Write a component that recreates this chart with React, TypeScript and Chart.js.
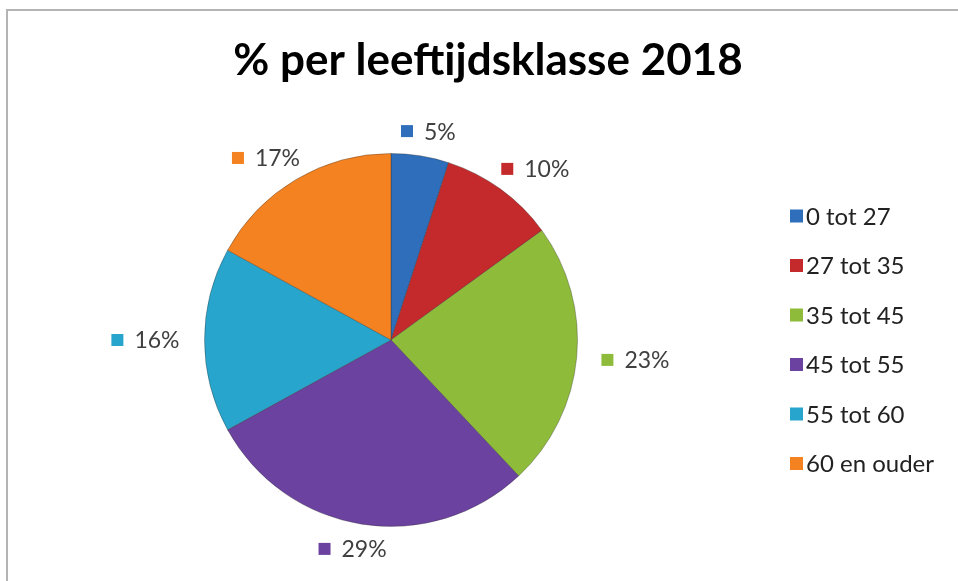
import React, { useEffect, useRef } from "react";
import { Chart, registerables } from "chart.js";
Chart.register(...registerables);

const chartTitle = "% per leeftijdsklasse 2018";
const categories = ["0 tot 27", "27 tot 35", "35 tot 45", "45 tot 55", "55 tot 60", "60 en ouder"];
const values = [5, 10, 23, 29, 16, 17];
const sliceColors = ["#2F6EBA", "#C42A2B", "#8FBB3B", "#6B42A0", "#27A5CC", "#F58220"];

const FONT = "Lato, 'Open Sans', sans-serif";

const decor = {
  id: "decor",
  beforeDraw(chart: any) {
    const ctx = chart.ctx;
    ctx.save();
    ctx.fillStyle = "#ffffff";
    ctx.fillRect(0, 0, chart.width, chart.height);
    ctx.strokeStyle = "#b4b4b4";
    ctx.lineWidth = 2;
    ctx.beginPath();
    ctx.moveTo(chart.width, 10);
    ctx.lineTo(7, 10);
    ctx.lineTo(7, chart.height);
    ctx.stroke();
    ctx.restore();
  },
  afterDatasetsDraw(chart: any) {
    const ctx = chart.ctx;
    ctx.save();
    // title
    ctx.fillStyle = "#000000";
    ctx.font = `bold 44px ${FONT}`;
    ctx.textAlign = "center";
    ctx.textBaseline = "middle";
    ctx.fillText(chartTitle, 488, 61);

    // data labels
    const meta = chart.getDatasetMeta(0);
    const data = chart.data.datasets[0].data as number[];
    const bg = chart.data.datasets[0].backgroundColor as string[];
    ctx.font = `23px ${FONT}`;
    ctx.textAlign = "left";
    const sq = 12;
    const gap = 11;
    meta.data.forEach((arc: any, i: number) => {
      const p = arc.getProps(["x", "y", "startAngle", "endAngle", "outerRadius"], true);
      const mid = (p.startAngle + p.endAngle) / 2;
      const dist = p.outerRadius + 25;
      const ax = p.x + Math.cos(mid) * dist;
      const ay = p.y + Math.sin(mid) * dist;
      const text = `${data[i]}%`;
      const w = sq + gap + ctx.measureText(text).width;
      const cx = ax + Math.cos(mid) * (w / 2);
      const left = cx - w / 2;
      ctx.fillStyle = bg[i];
      ctx.fillRect(left, ay - sq / 2, sq, sq);
      ctx.fillStyle = "#404040";
      ctx.fillText(text, left + sq + gap, ay + 1);
    });

    // legend
    const labels = chart.data.labels as string[];
    ctx.font = `24px ${FONT}`;
    labels.forEach((lab: string, i: number) => {
      const y = 216 + i * 49.5;
      ctx.fillStyle = bg[i];
      ctx.fillRect(790, y - 6.5, 13, 13);
      ctx.fillStyle = "#222222";
      ctx.fillText(lab, 806, y + 1);
    });
    ctx.restore();
  },
};

export default function App() {
  const ref = useRef<HTMLCanvasElement>(null);
  useEffect(() => {
    document.body.style.margin = "0";
    const chart = new Chart(ref.current!, {
      type: "pie",
      data: {
        labels: categories,
        datasets: [
          {
            data: values,
            backgroundColor: sliceColors,
            borderColor: "rgba(50,50,50,0.35)",
            borderWidth: 1,
          },
        ],
      },
      options: {
        responsive: false,
        animation: false,
        layout: { padding: { left: 204, right: 380, top: 153, bottom: 54 } },
        plugins: {
          legend: { display: false },
          title: { display: false },
          tooltip: { enabled: false },
        },
      },
      plugins: [decor],
    });
    return () => chart.destroy();
  }, []);
  return <canvas ref={ref} width={958} height={581} style={{ display: "block" }} />;
}
